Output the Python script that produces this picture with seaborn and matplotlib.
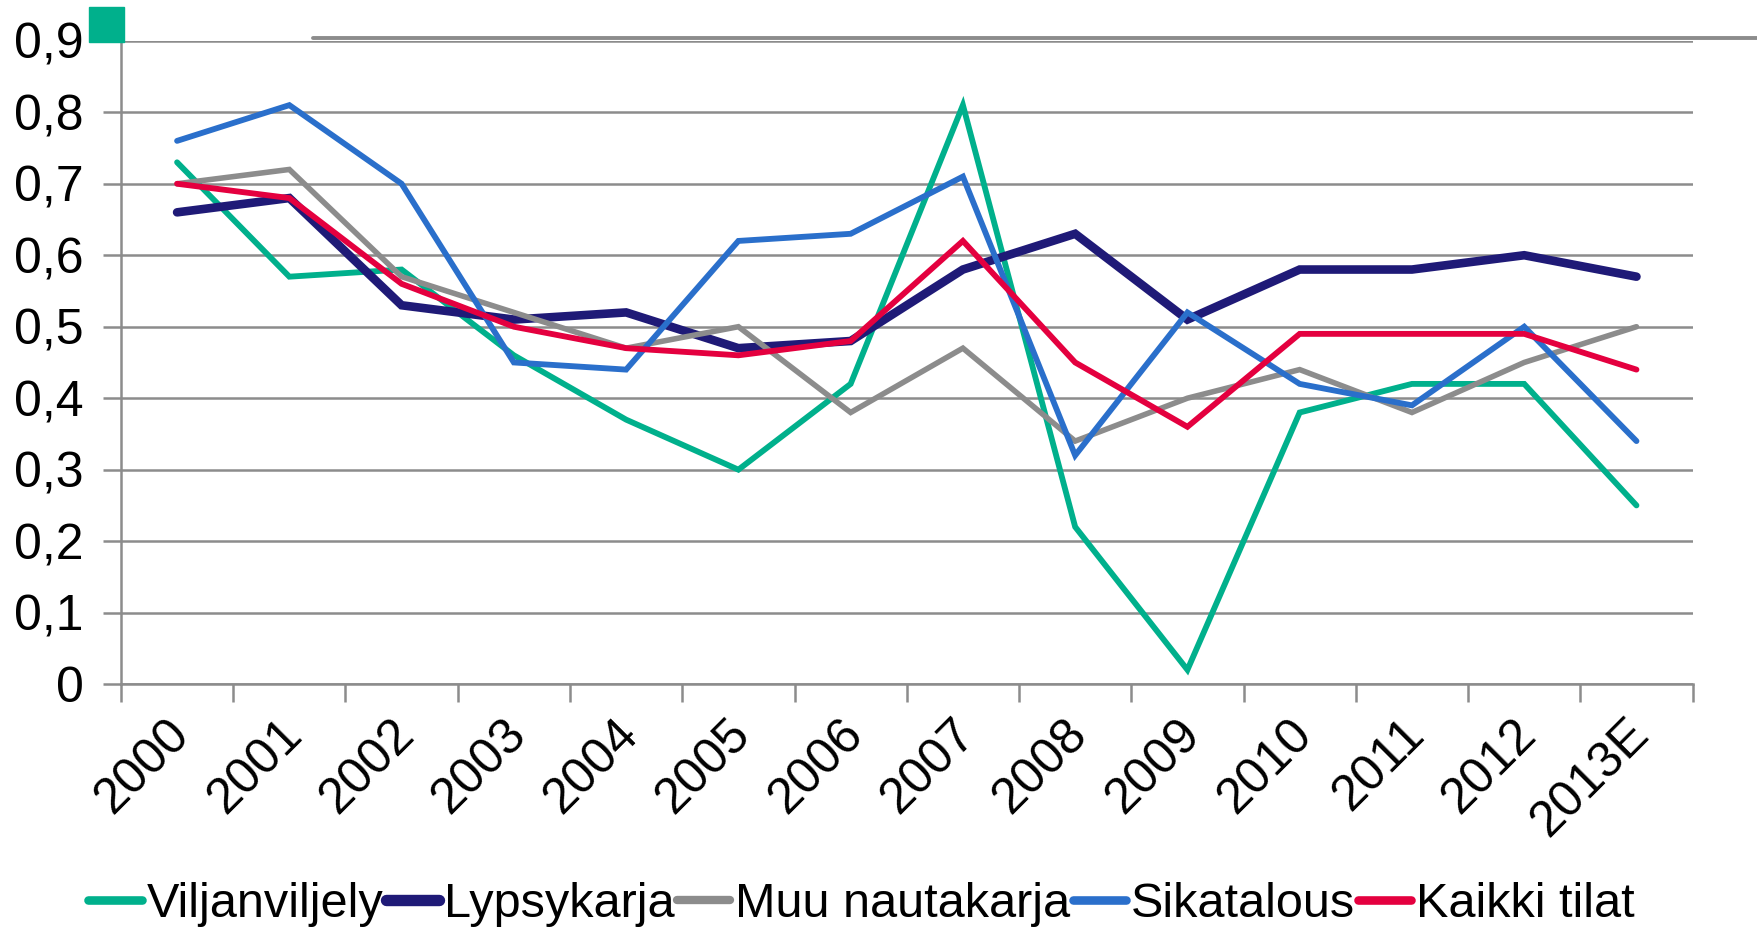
import matplotlib
matplotlib.use("Agg")
import matplotlib.pyplot as plt
import matplotlib.patches as mpatches
import matplotlib.lines as mlines
import matplotlib.transforms as mtransforms
import numpy as np
import pandas as pd
import seaborn as sns

years = ["2000", "2001", "2002", "2003", "2004", "2005", "2006",
         "2007", "2008", "2009", "2010", "2011", "2012", "2013E"]

viljanviljely = [0.73, 0.57, 0.58, 0.46, 0.37, 0.30, 0.42, 0.81, 0.22, 0.02, 0.38, 0.42, 0.42, 0.25]
lypsykarja = [0.66, 0.68, 0.53, 0.51, 0.52, 0.47, 0.48, 0.58, 0.63, 0.51, 0.58, 0.58, 0.60, 0.57]
muu_nautakarja = [0.70, 0.72, 0.57, 0.52, 0.47, 0.50, 0.38, 0.47, 0.34, 0.40, 0.44, 0.38, 0.45, 0.50]
sikatalous = [0.76, 0.81, 0.70, 0.45, 0.44, 0.62, 0.63, 0.71, 0.32, 0.52, 0.42, 0.39, 0.50, 0.34]
kaikki_tilat = [0.70, 0.68, 0.56, 0.50, 0.47, 0.46, 0.48, 0.62, 0.45, 0.36, 0.49, 0.49, 0.49, 0.44]

series_names = ["Viljanviljely", "Lypsykarja", "Muu nautakarja", "Sikatalous", "Kaikki tilat"]
colors = ["#00B08C", "#1F1A77", "#8C8C8C", "#2A6FCB", "#E4003F"]
widths = [4.2, 6.2, 4.0, 4.2, 4.2]
y_ticks = [0, 0.1, 0.2, 0.3, 0.4, 0.5, 0.6, 0.7, 0.8, 0.9]

# long-form table for seaborn
df = pd.DataFrame({
    "Vuosi": years * 5,
    "Arvo": viljanviljely + lypsykarja + muu_nautakarja + sikatalous + kaikki_tilat,
    "Sarja": [name for name in series_names for _ in years],
})

sns.set_style("white")
plt.rcParams["font.family"] = ["Liberation Sans", "DejaVu Sans"]
plt.rcParams["text.color"] = "black"

fig = plt.figure(figsize=(17.58, 9.27), dpi=100)
ax = fig.add_axes([0.0688, 0.262, 0.894, 0.694])

sns.lineplot(data=df, x="Vuosi", y="Arvo", hue="Sarja",
             palette=dict(zip(series_names, colors)), hue_order=series_names,
             sort=False, legend=False, ax=ax)
# line widths per series (navy one is heavier)
for line, w in zip(ax.lines, widths):
    line.set_linewidth(w)
    line.set_solid_joinstyle("miter")

grid_col = "#8C8C8C"
ax.set_xlim(-0.5, len(years) - 0.5)
ax.set_ylim(0, 0.9)
ax.set_yticks(y_ticks)
ax.set_yticklabels([f"{v:.1f}".replace(".", ",") if v else "0" for v in y_ticks])
ax.yaxis.grid(True, color=grid_col, linewidth=1.8)
ax.set_axisbelow(True)
ax.set_xlabel("")
ax.set_ylabel("")

ax.set_xticks(range(len(years)))
ax.set_xticklabels(years, rotation=45, ha="right", va="top", rotation_mode="anchor")
ax.set_xticks(np.arange(-0.5, len(years)), minor=True)
ax.tick_params(axis="x", which="major", length=0, labelsize=36, pad=19, labelcolor="black")
ax.tick_params(axis="x", which="minor", bottom=True, length=13, width=1.8,
               color=grid_col, direction="out")
ax.tick_params(axis="y", left=True, length=13, width=1.8, color=grid_col,
               direction="out", labelsize=36, pad=14, labelcolor="black")

# nudge rotated year labels a little to the left
shift = mtransforms.ScaledTranslation(-8 / 72, 0, fig.dpi_scale_trans)
for lab in ax.get_xticklabels():
    lab.set_transform(lab.get_transform() + shift)

for side in ["top", "right"]:
    ax.spines[side].set_visible(False)
for side in ["left", "bottom"]:
    ax.spines[side].set_color(grid_col)
    ax.spines[side].set_linewidth(1.8)

# decoration: green square and top rule
fig.patches.append(mpatches.Rectangle((89 / 1758, 1 - 42 / 927), 35 / 1758, 35 / 927,
                                      transform=fig.transFigure, color="#00B08C"))
fig.lines.append(mlines.Line2D([313 / 1758, 1.0], [1 - 38 / 927, 1 - 38 / 927],
                               transform=fig.transFigure, color=grid_col, linewidth=2.8))

handles = [mlines.Line2D([], [], color=c, linewidth=w + 2.0, solid_capstyle="round")
           for c, w in zip(colors, widths)]
fig.legend(handles, series_names, loc="lower center", bbox_to_anchor=(0.49, -0.01),
           ncol=5, frameon=False, fontsize=35, handlelength=1.1,
           handletextpad=0.1, columnspacing=0.05, borderaxespad=0.0, borderpad=0.2)

fig.savefig("out.png", dpi=100)
